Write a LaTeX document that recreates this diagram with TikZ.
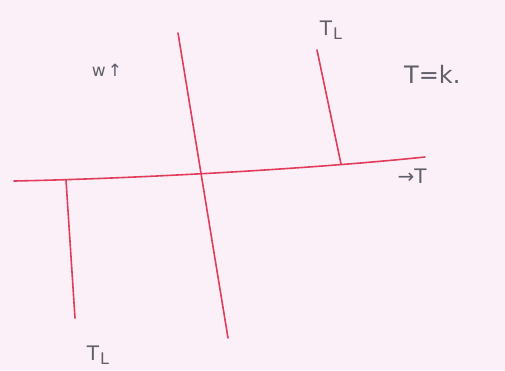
\documentclass[tikz,border=0pt]{standalone}
\usepackage{fontspec}
\setmainfont{DejaVu Sans}
\definecolor{paper}{RGB}{252,240,248}
\definecolor{ink}{RGB}{226,60,90}
\definecolor{pencil}{RGB}{95,95,105}
\begin{document}
\begin{tikzpicture}[x=1pt,y=-1pt,
  redline/.style={draw=ink,line width=1.6pt,line cap=round},
  lbl/.style={text=pencil,font=\fontsize{20}{20}\selectfont,inner sep=0pt}]
\fill[paper] (0,0) rectangle (505,370);
\useasboundingbox (0,0) rectangle (505,370);
% axis
\coordinate (hl) at (14,181);
\coordinate (hr) at (425,157);
\draw[redline] (hl) .. controls (120,179) and (300,170) .. (hr);
% central vertical
\coordinate (ct) at (178,33);
\coordinate (cb) at (228,338);
\draw[redline] (ct) -- (cb);
% right short vertical
\coordinate (rt) at (317,50);
\coordinate (rb) at (341,164);
\draw[redline] (rt) -- (rb);
% left vertical
\coordinate (lt) at (66,180);
\coordinate (lb) at (75,318);
\draw[redline] (lt) -- (lb);
% labels
\node[lbl,font=\fontsize{17}{17}\selectfont] (w) at (107,70) {w\kern2pt↑};
\node[lbl] (tl1) at (331,30) {T\kern1pt\raisebox{-0.4ex}{\fontsize{16}{16}\selectfont L}};
\node[lbl,anchor=west,font=\fontsize{24}{24}\selectfont] (tk) at (404,74) {T=k.};
\node[lbl] (tax) at (412,176) {→T};
\node[lbl] (tl2) at (98,355) {T\kern1pt\raisebox{-0.4ex}{\fontsize{16}{16}\selectfont L}};
\end{tikzpicture}
\end{document}
